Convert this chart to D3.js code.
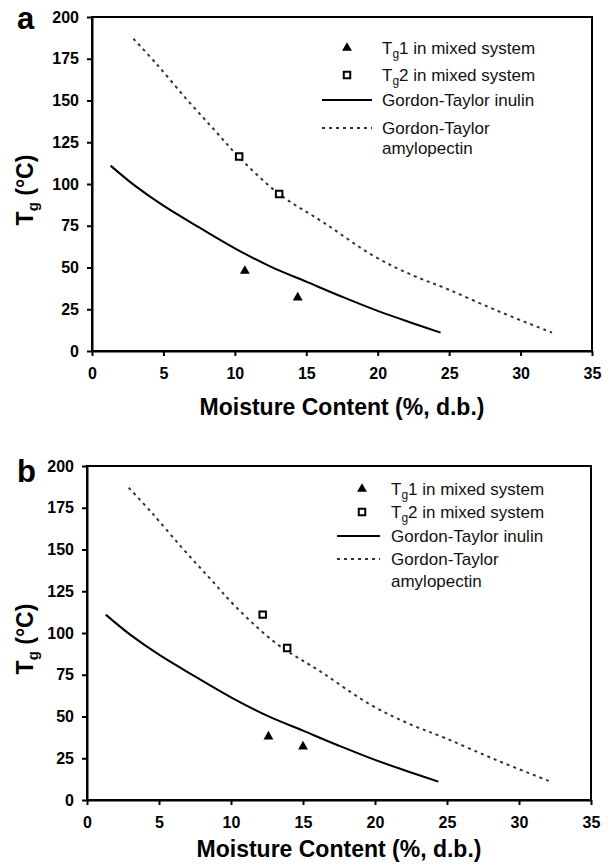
<!DOCTYPE html>
<html>
<head>
<meta charset="utf-8">
<script src="https://cdn.jsdelivr.net/npm/d3@7"></script>
<style>
	body { margin: 0; background: #fff; }
	svg { display: block; font-family: "Liberation Sans", Arial, sans-serif; }
</style>
</head>
<body>
<script>
// tick values shared by both panels
var xTicks = [0, 5, 10, 15, 20, 25, 30, 35];
var yTicks = [0, 25, 50, 75, 100, 125, 150, 175, 200];

// Gordon-Taylor curves (moisture %, Tg in C)
var inulinX = [1.3, 3, 5, 7.5, 10, 12.5, 15, 17.5, 20, 22.5, 24.4];
var inulinY = [111, 99, 87, 74, 61.5, 50.5, 41.5, 32.5, 24, 16.5, 11];
var amyloX = [2.9, 4.5, 6.6, 8.5, 10.3, 13.1, 16.2, 19.7, 22.4, 24.9, 28.4, 32.2];
var amyloY = [187, 172, 151, 133, 116, 94, 77, 57, 45.5, 37, 24, 11];

// measured points, panel a
var tg1aX = [10.7, 14.4];
var tg1aY = [48, 32];
var tg2aX = [10.3, 13.1];
var tg2aY = [116.5, 94];

// measured points, panel b
var tg1bX = [12.6, 15.0];
var tg1bY = [38, 32];
var tg2bX = [12.2, 13.9];
var tg2bY = [111, 91];

var legendLabels = ['1 in mixed system', '2 in mixed system',
	'Gordon-Taylor inulin', 'Gordon-Taylor', 'amylopectin'];

var svg = d3.select('body').append('svg')
	.attr('width', 610)
	.attr('height', 868);

function zip(xs, ys) {
	return xs.map(function(v, i) { return [v, ys[i]]; });
}

function drawPanel(p) {
	var x = d3.scaleLinear().domain([0, 35]).range([p.left, p.right]);
	var y = d3.scaleLinear().domain([0, 200]).range([p.bottom, p.top]);

	// frame
	svg.append('rect')
		.attr('x', p.left)
		.attr('y', p.top)
		.attr('width', p.right - p.left)
		.attr('height', p.bottom - p.top)
		.style('fill', 'none')
		.style('stroke', '#000')
		.style('stroke-width', 2);

	var xAxis = svg.append('g')
		.attr('transform', 'translate(0,' + p.bottom + ')')
		.call(d3.axisBottom(x).tickValues(xTicks).tickSize(5)
			.tickSizeOuter(0).tickPadding(12));
	var yAxis = svg.append('g')
		.attr('transform', 'translate(' + p.left + ',0)')
		.call(d3.axisLeft(y).tickValues(yTicks).tickSize(5)
			.tickSizeOuter(0).tickPadding(8));

	[xAxis, yAxis].forEach(function(a) {
		a.select('.domain').style('stroke-width', 2);
		a.selectAll('.tick line').style('stroke-width', 2);
		a.selectAll('.tick text')
			.style('font-family', '"Liberation Sans", Arial, sans-serif')
			.style('font-size', '16px')
			.style('font-weight', 'bold')
			.style('fill', '#000');
	});

	// axis titles
	svg.append('text')
		.attr('x', (p.left + p.right) / 2)
		.attr('y', p.bottom + p.titleOffset)
		.style('text-anchor', 'middle')
		.style('font-size', '23px')
		.style('font-weight', 'bold')
		.text('Moisture Content (%, d.b.)');

	var yl = svg.append('text')
		.attr('transform', 'translate(' + p.yLabelX + ',' + ((p.top + p.bottom) / 2 + 6) + ') rotate(-90)')
		.style('text-anchor', 'middle')
		.style('font-size', '23px')
		.style('font-weight', 'bold');
	yl.append('tspan').text('T');
	yl.append('tspan').attr('dy', 5).style('font-size', '15px').text('g');
	yl.append('tspan').attr('dy', -5).text(' (\u00B0C)');

	// panel letter
	svg.append('text')
		.attr('x', 17)
		.attr('y', p.letterY)
		.style('font-size', '31px')
		.style('font-weight', 'bold')
		.text(p.letter);

	var line = d3.line()
		.x(function(d) { return x(d[0]); })
		.y(function(d) { return y(d[1]); })
		.curve(d3.curveCatmullRom);

	svg.append('path')
		.datum(zip(inulinX, inulinY))
		.attr('d', line)
		.style('fill', 'none')
		.style('stroke', '#000')
		.style('stroke-width', 2);

	svg.append('path')
		.datum(zip(amyloX, amyloY))
		.attr('d', line)
		.style('fill', 'none')
		.style('stroke', '#333')
		.style('stroke-width', 2)
		.style('stroke-dasharray', '3,4');

	var tri = d3.symbol().type(d3.symbolTriangle).size(42);
	var sq = d3.symbol().type(d3.symbolSquare).size(42);

	svg.selectAll(null)
		.data(zip(p.tg1X, p.tg1Y))
		.enter().append('path')
		.attr('d', tri)
		.attr('transform', function(d) { return 'translate(' + x(d[0]) + ',' + y(d[1]) + ')'; })
		.style('fill', '#000');

	svg.selectAll(null)
		.data(zip(p.tg2X, p.tg2Y))
		.enter().append('path')
		.attr('d', sq)
		.attr('transform', function(d) { return 'translate(' + x(d[0]) + ',' + y(d[1]) + ')'; })
		.style('fill', '#fff')
		.style('stroke', '#000')
		.style('stroke-width', 2);

	// legend
	var lg = svg.append('g');
	lg.append('path')
		.attr('d', tri)
		.attr('transform', 'translate(' + p.legMarkX + ',' + p.legRows[0] + ')');
	lg.append('path')
		.attr('d', sq)
		.attr('transform', 'translate(' + p.legMarkX + ',' + p.legRows[1] + ')')
		.style('fill', '#fff')
		.style('stroke', '#000')
		.style('stroke-width', 2);
	lg.append('line')
		.attr('x1', p.legLine[0]).attr('x2', p.legLine[1])
		.attr('y1', p.legRows[2]).attr('y2', p.legRows[2])
		.style('stroke', '#000')
		.style('stroke-width', 2);
	lg.append('line')
		.attr('x1', p.legLine[0]).attr('x2', p.legLine[1])
		.attr('y1', p.legRows[3]).attr('y2', p.legRows[3])
		.style('stroke', '#333')
		.style('stroke-width', 2)
		.style('stroke-dasharray', '3,4');

	for (var i = 0; i < legendLabels.length; i++) {
		var t = lg.append('text')
			.attr('x', p.legTextX)
			.attr('y', p.legRows[i] + 6)
			.style('font-size', '17px')
			.style('fill', '#111');
		if (i < 2) {
			t.append('tspan').text('T');
			t.append('tspan').attr('dy', 4).style('font-size', '12px').text('g');
			t.append('tspan').attr('dy', -4).text(legendLabels[i]);
		} else {
			t.text(legendLabels[i]);
		}
	}
}

drawPanel({
	letter: 'a', letterY: 29,
	left: 92, right: 592, top: 17, bottom: 351,
	titleOffset: 64, yLabelX: 33,
	tg1X: tg1aX, tg1Y: tg1aY, tg2X: tg2aX, tg2Y: tg2aY,
	legMarkX: 347, legLine: [322, 372], legTextX: 382,
	legRows: [48, 75, 100, 128, 148]
});

drawPanel({
	letter: 'b', letterY: 482,
	left: 87, right: 591, top: 466, bottom: 800,
	titleOffset: 57, yLabelX: 33,
	tg1X: tg1bX, tg1Y: tg1bY, tg2X: tg2bX, tg2Y: tg2bY,
	legMarkX: 362, legLine: [337, 380], legTextX: 391,
	legRows: [489, 512, 536, 559, 581]
});
</script>
</body>
</html>
